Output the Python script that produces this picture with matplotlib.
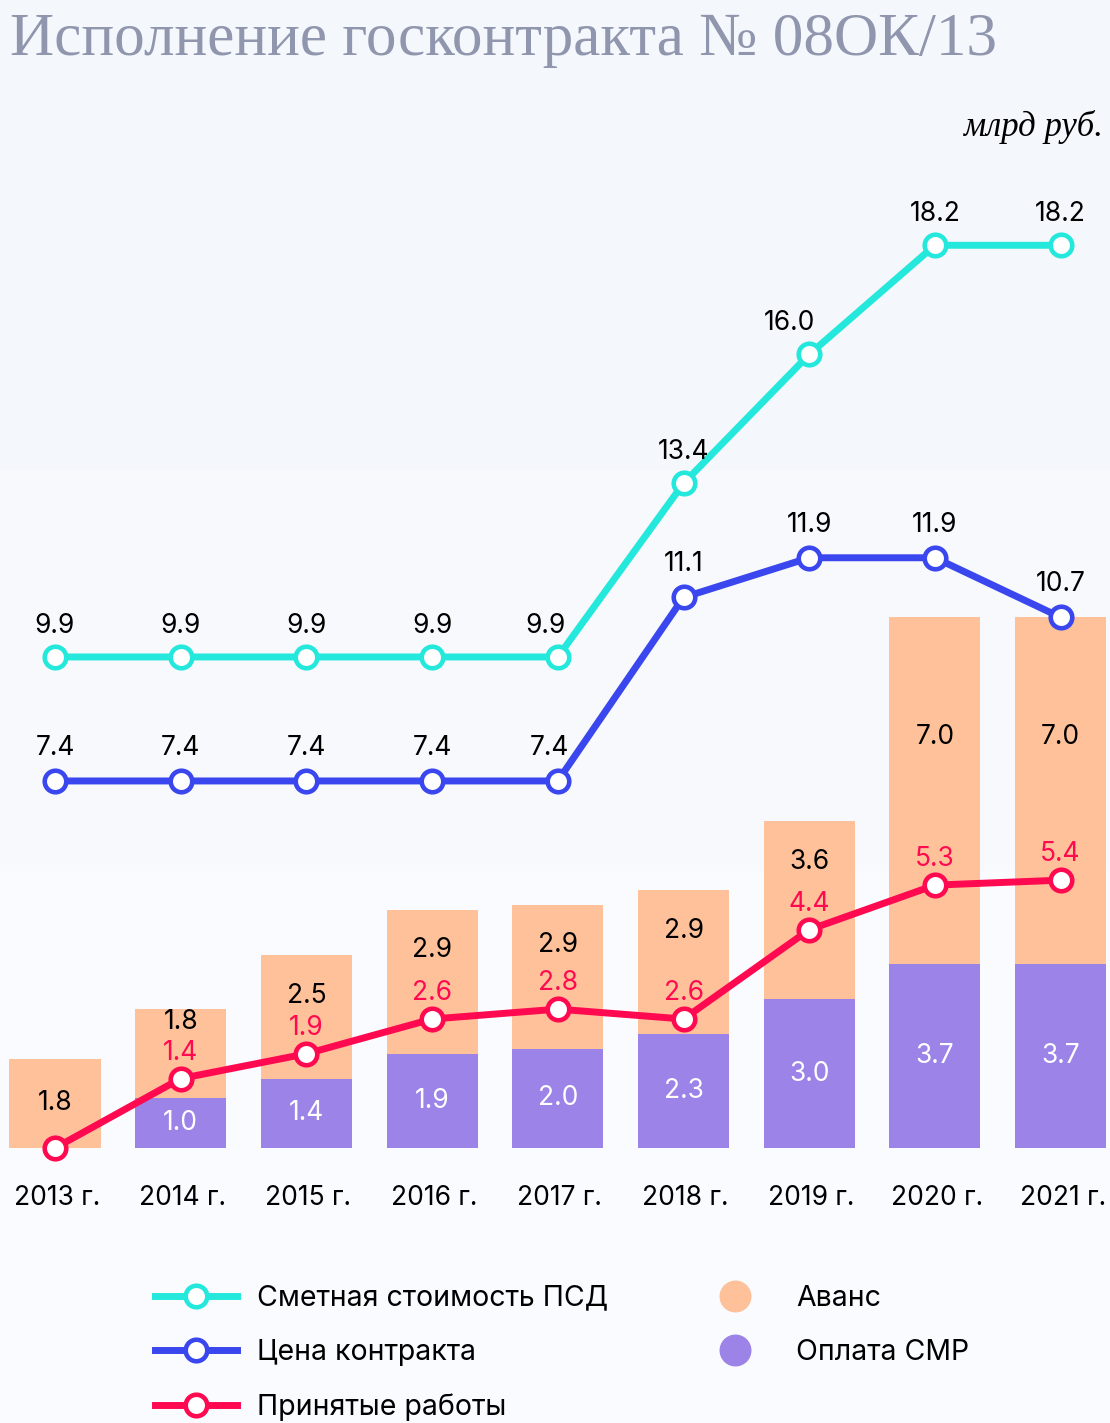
import numpy as np
import matplotlib
matplotlib.use("Agg")
import matplotlib.pyplot as plt
from matplotlib.lines import Line2D
from matplotlib.patches import Rectangle

plt.rcParams['font.family'] = ['Inter', 'DejaVu Sans']

# data
years = ['2013 г.', '2014 г.', '2015 г.', '2016 г.', '2017 г.',
         '2018 г.', '2019 г.', '2020 г.', '2021 г.']
smeta = [9.9, 9.9, 9.9, 9.9, 9.9, 13.4, 16.0, 18.2, 18.2]
price = [7.4, 7.4, 7.4, 7.4, 7.4, 11.1, 11.9, 11.9, 10.7]
accepted = [0.0, 1.4, 1.9, 2.6, 2.8, 2.6, 4.4, 5.3, 5.4]
smr = [0.0, 1.0, 1.4, 1.9, 2.0, 2.3, 3.0, 3.7, 3.7]
avans = [1.8, 1.8, 2.5, 2.9, 2.9, 2.9, 3.6, 7.0, 7.0]

C_SMETA = '#25e8dc'
C_PRICE = '#3a46ee'
C_ACC = '#ff0a50'
C_AVANS = '#fec19a'
C_SMR = '#9c83e8'

W, H, DPI = 1110, 1423, 100
fig = plt.figure(figsize=(W / DPI, H / DPI), dpi=DPI)
fig.patch.set_facecolor('#fafbfe')

# banded background
for y0, y1, col in [(0, 470, '#f4f7fb'), (470, 870, '#f7f9fc')]:
    fig.add_artist(Rectangle((0, 1 - y1 / H), 1, (y1 - y0) / H,
                             transform=fig.transFigure, color=col, zorder=-10))

ax = fig.add_axes([0, 0, 1, 1])
ax.patch.set_alpha(0)
ax.axis('off')

step = 125.7   # px per category
unit = 49.6    # px per 1 bn
x0, base = 55, 1148
ax.set_xlim(-x0 / step, (W - x0) / step)
ax.set_ylim((base - H) / unit, base / unit)

x = np.arange(len(years))
px = 1 / 1.389  # pixel -> points
FS = 19

ax.bar(x, smr, width=0.725, color=C_SMR, zorder=1)
ax.bar(x, avans, bottom=smr, width=0.725, color=C_AVANS, zorder=1)

# bar labels
avans_off = [None, 13, 41, 40, 40, 41, 41, 120, 120]  # px below top, None -> centre
for i in range(len(x)):
    top = smr[i] + avans[i]
    if avans_off[i] is None:
        ax.text(x[i], smr[i] + avans[i] / 2, f'{avans[i]:.1f}', ha='center',
                va='center', fontsize=FS, color='black', zorder=2)
    else:
        ax.annotate(f'{avans[i]:.1f}', (x[i], top), xytext=(0, -avans_off[i] * px),
                    textcoords='offset points', ha='center', va='center',
                    fontsize=FS, color='black', zorder=2)
    if smr[i] > 0:
        ax.text(x[i], smr[i] / 2, f'{smr[i]:.1f}', ha='center', va='center',
                fontsize=FS, color='white', zorder=2)

def draw_line(vals, color, dy, dx=None, skip=()):
    ax.plot(x, vals, color=color, lw=5, marker='o', ms=15.5, mfc='white',
            mec=color, mew=3.3, zorder=4, solid_capstyle='round')
    for i, v in enumerate(vals):
        if i in skip:
            continue
        ox = dx[i] if dx else 0
        ax.annotate(f'{v:.1f}', (x[i], v), xytext=(ox * px, dy * px),
                    textcoords='offset points', ha='center', va='center',
                    fontsize=FS, color='black' if color != C_ACC else C_ACC,
                    zorder=5)

draw_line(smeta, C_SMETA, 31, dx=[0, 0, 0, 0, -12, 0, -20, 0, 0])
draw_line(price, C_PRICE, 33, dx=[0, 0, 0, 0, -8, 0, 0, 0, 0])
draw_line(accepted, C_ACC, 26, skip=(0,))

for i, lab in enumerate(years):
    ax.text(x[i] + 2 / step, (base - 1198) / unit, lab, ha='center', va='center',
            fontsize=FS, color='black')

fig.text(10 / W, 1 - 40 / H, 'Исполнение госконтракта № 08ОК/13',
         family='Liberation Serif', fontsize=44, color='#8f96ad',
         ha='left', va='center')
fig.text(1103 / W, 1 - 127 / H, 'млрд руб.', family='Liberation Serif',
         style='italic', fontsize=25, color='black', ha='right', va='center')

handles = [
    Line2D([], [], color=C_SMETA, lw=5, marker='o', ms=15.5, mfc='white', mec=C_SMETA, mew=3.3),
    Line2D([], [], color=C_PRICE, lw=5, marker='o', ms=15.5, mfc='white', mec=C_PRICE, mew=3.3),
    Line2D([], [], color=C_ACC, lw=5, marker='o', ms=15.5, mfc='white', mec=C_ACC, mew=3.3),
    Line2D([], [], lw=0, marker='o', ms=22, color=C_AVANS),
    Line2D([], [], lw=0, marker='o', ms=22, color=C_SMR),
]
labels = ['Сметная стоимость ПСД', 'Цена контракта', 'Принятые работы',
          'Аванс', 'Оплата СМР']
fig.legend(handles, labels, ncol=2, loc='upper left',
           bbox_to_anchor=(132 / W, 1 - 1262 / H), frameon=False,
           fontsize=20.5, handlelength=2.9, handletextpad=0.7,
           columnspacing=3.0, labelspacing=0.95, borderpad=0.3)

fig.savefig('out.png', dpi=DPI)
